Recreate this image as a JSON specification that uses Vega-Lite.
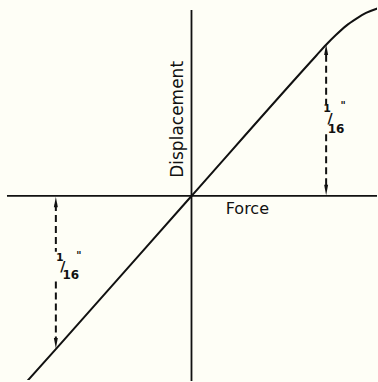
{
  "$schema": "https://vega.github.io/schema/vega-lite/v6.json",
  "autosize": {"type": "fit", "contains": "padding"},
  "width": 378,
  "height": 382,
  "padding": 0,
  "background": "#fefef6",
  "config": {"view": {"stroke": null}},
  "datasets": {
    "curve": [
      {"f": -170, "d": -192}, {"f": -136, "d": -154}, {"f": 0, "d": 0},
      {"f": 125, "d": 141}, {"f": 135, "d": 152}, {"f": 145, "d": 162},
      {"f": 155, "d": 171}, {"f": 165, "d": 178}, {"f": 175, "d": 184},
      {"f": 185, "d": 188}, {"f": 192, "d": 190}
    ],
    "axes": [
      {"f1": -185, "f2": 186, "d1": 0, "d2": 0},
      {"f1": 0, "f2": 0, "d1": -186, "d2": 187}
    ],
    "dims": [
      {"f": 135, "d1": 142, "d2": 92},
      {"f": 135, "d1": 62, "d2": 9},
      {"f": -136, "d1": -8, "d2": -56},
      {"f": -136, "d1": -86, "d2": -145}
    ],
    "arrows": [
      {"f": 135, "d": 147, "end": "top"},
      {"f": 135, "d": 6, "end": "bottom"},
      {"f": -136, "d": -6, "end": "top"},
      {"f": -136, "d": -148, "end": "bottom"}
    ],
    "fraction": [
      {"f": 136, "d": 87, "t": "1", "part": "num"},
      {"f": 139, "d": 77, "t": "/", "part": "bar"},
      {"f": 145, "d": 67, "t": "16", "part": "den"},
      {"f": 152, "d": 90, "t": "\"", "part": "mark"},
      {"f": -132, "d": -62, "t": "1", "part": "num"},
      {"f": -129, "d": -71, "t": "/", "part": "bar"},
      {"f": -121, "d": -79, "t": "16", "part": "den"},
      {"f": -113, "d": -60, "t": "\"", "part": "mark"}
    ],
    "titles": [
      {"f": -14, "d": 77, "t": "Displacement", "axis": "vertical"},
      {"f": 56, "d": -13, "t": "Force", "axis": "horizontal"}
    ]
  },
  "layer": [
    {
      "data": {"name": "axes"},
      "mark": {"type": "rule", "color": "#111", "strokeWidth": 1.8},
      "encoding": {
        "x": {"field": "f1", "type": "quantitative", "scale": {"domain": [-192, 186], "nice": false, "zero": false}, "axis": null},
        "x2": {"field": "f2"},
        "y": {"field": "d1", "type": "quantitative", "scale": {"domain": [-185, 197], "nice": false, "zero": false}, "axis": null},
        "y2": {"field": "d2"}
      }
    },
    {
      "data": {"name": "curve"},
      "mark": {"type": "line", "color": "#111", "strokeWidth": 2, "interpolate": "monotone", "clip": true},
      "encoding": {
        "x": {"field": "f", "type": "quantitative"},
        "y": {"field": "d", "type": "quantitative"}
      }
    },
    {
      "data": {"name": "dims"},
      "mark": {"type": "rule", "color": "#111", "strokeWidth": 2, "strokeDash": [7, 4]},
      "encoding": {
        "x": {"field": "f", "type": "quantitative"},
        "y": {"field": "d1", "type": "quantitative"},
        "y2": {"field": "d2"}
      }
    },
    {
      "data": {"name": "arrows"},
      "transform": [{"filter": "datum.end === 'top'"}],
      "mark": {"type": "point", "filled": true, "color": "#111", "opacity": 1, "size": 110, "shape": "M0,-1L0.38,1L-0.38,1Z"},
      "encoding": {
        "x": {"field": "f", "type": "quantitative"},
        "y": {"field": "d", "type": "quantitative"}
      }
    },
    {
      "data": {"name": "arrows"},
      "transform": [{"filter": "datum.end === 'bottom'"}],
      "mark": {"type": "point", "filled": true, "color": "#111", "opacity": 1, "size": 110, "shape": "M0,1L0.38,-1L-0.38,-1Z"},
      "encoding": {
        "x": {"field": "f", "type": "quantitative"},
        "y": {"field": "d", "type": "quantitative"}
      }
    },
    {
      "data": {"name": "fraction"},
      "transform": [{"filter": "datum.part === 'num'"}],
      "mark": {"type": "text", "font": "DejaVu Sans", "fontSize": 11, "fontWeight": "bold", "fill": "#111", "baseline": "middle"},
      "encoding": {
        "x": {"field": "f", "type": "quantitative"},
        "y": {"field": "d", "type": "quantitative"},
        "text": {"field": "t"}
      }
    },
    {
      "data": {"name": "fraction"},
      "transform": [{"filter": "datum.part === 'bar'"}],
      "mark": {"type": "text", "font": "DejaVu Sans", "fontSize": 14, "fontWeight": "bold", "fill": "#111", "baseline": "middle"},
      "encoding": {
        "x": {"field": "f", "type": "quantitative"},
        "y": {"field": "d", "type": "quantitative"},
        "text": {"field": "t"}
      }
    },
    {
      "data": {"name": "fraction"},
      "transform": [{"filter": "datum.part === 'den'"}],
      "mark": {"type": "text", "font": "DejaVu Sans", "fontSize": 12, "fontWeight": "bold", "fill": "#111", "baseline": "middle"},
      "encoding": {
        "x": {"field": "f", "type": "quantitative"},
        "y": {"field": "d", "type": "quantitative"},
        "text": {"field": "t"}
      }
    },
    {
      "data": {"name": "fraction"},
      "transform": [{"filter": "datum.part === 'mark'"}],
      "mark": {"type": "text", "font": "DejaVu Sans", "fontSize": 10, "fontWeight": "bold", "fill": "#111", "baseline": "middle"},
      "encoding": {
        "x": {"field": "f", "type": "quantitative"},
        "y": {"field": "d", "type": "quantitative"},
        "text": {"field": "t"}
      }
    },
    {
      "data": {"name": "titles"},
      "transform": [{"filter": "datum.axis === 'vertical'"}],
      "mark": {"type": "text", "font": "DejaVu Sans", "fontSize": 17, "angle": 270, "fill": "#111", "baseline": "middle", "align": "center"},
      "encoding": {
        "x": {"field": "f", "type": "quantitative"},
        "y": {"field": "d", "type": "quantitative"},
        "text": {"field": "t"}
      }
    },
    {
      "data": {"name": "titles"},
      "transform": [{"filter": "datum.axis === 'horizontal'"}],
      "mark": {"type": "text", "font": "DejaVu Sans", "fontSize": 16, "fill": "#111", "baseline": "middle", "align": "center"},
      "encoding": {
        "x": {"field": "f", "type": "quantitative"},
        "y": {"field": "d", "type": "quantitative"},
        "text": {"field": "t"}
      }
    }
  ]
}
